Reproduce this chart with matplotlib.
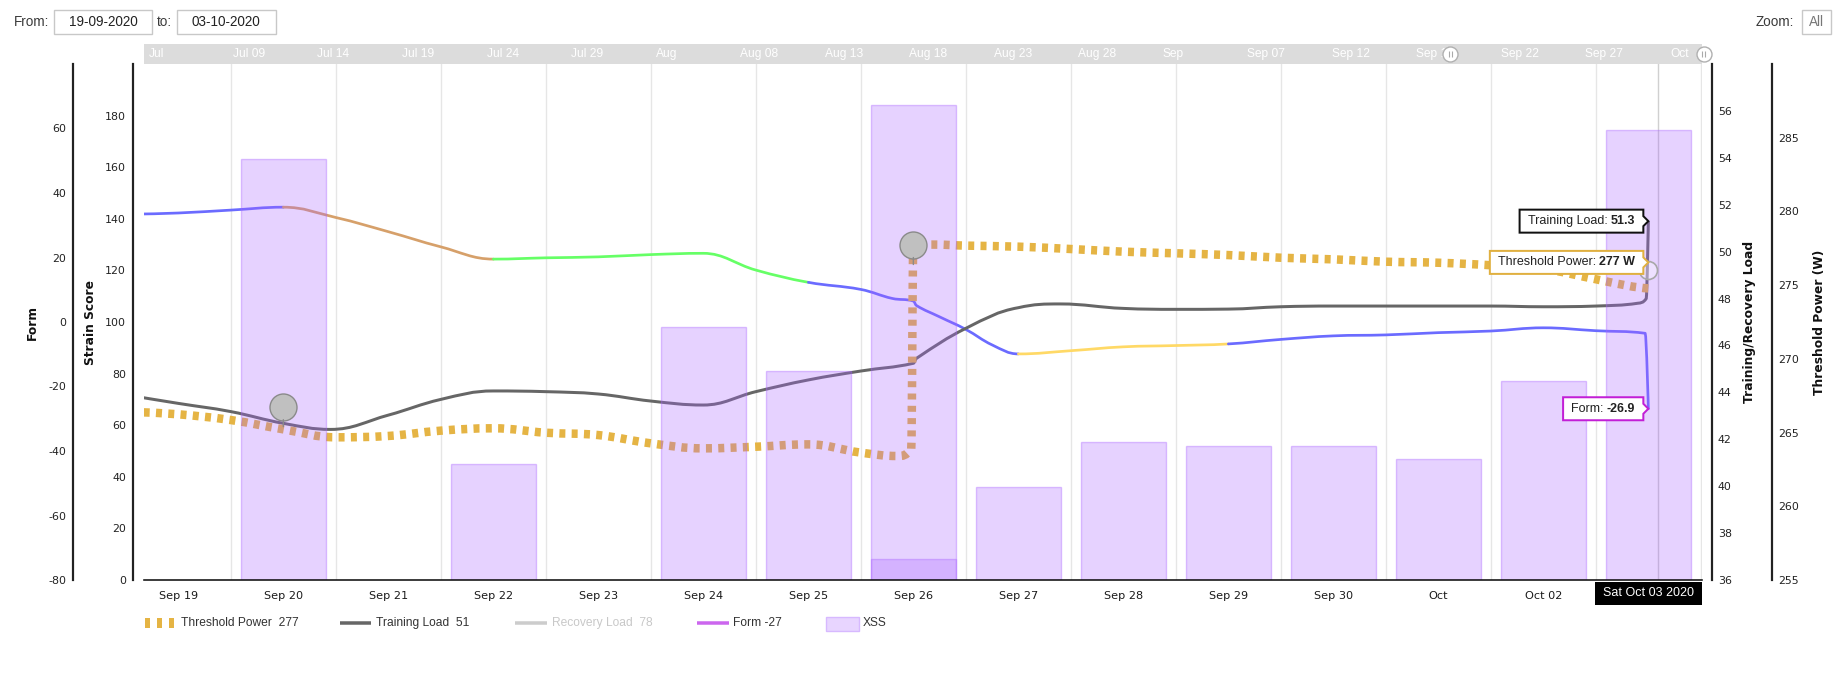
import numpy as np
import pandas as pd
import matplotlib
matplotlib.use("Agg")
import matplotlib.pyplot as plt
from matplotlib.path import Path
from matplotlib.patches import PathPatch, Polygon, Rectangle
from matplotlib.lines import Line2D
from matplotlib.transforms import IdentityTransform, ScaledTranslation

plt.rcParams['lines.scale_dashes'] = False
plt.rcParams['axes.unicode_minus'] = False
plt.rcParams['font.family'] = ['DejaVu Sans']

# ------------------------------------------------------------------ data
START = '2020-09-19'
TICK_LABELS = ['Sep 19', 'Sep 20', 'Sep 21', 'Sep 22', 'Sep 23', 'Sep 24', 'Sep 25',
               'Sep 26', 'Sep 27', 'Sep 28', 'Sep 29', 'Sep 30', 'Oct', 'Oct 02']
HOVER_DATE = '2020-10-03'
HOVER_LABEL = 'Sat Oct 03 2020'

XSS_DATES = ['2020-09-20', '2020-09-22', '2020-09-24', '2020-09-25', '2020-09-26',
             '2020-09-27', '2020-09-28', '2020-09-29', '2020-09-30', '2020-10-01',
             '2020-10-02', '2020-10-03']
XSS_VALUES = [163, 45, 98, 81, 184, 36, 53.5, 52, 52, 47, 77, 174.5]
XSS_EXTRA_DATES = ['2020-09-26']
XSS_EXTRA_VALUES = [8]

# days after Sep 19 00:00
FORM_DAY = [-0.33, 0, 0.5, 1, 1.5, 2, 2.5, 3, 3.5, 4, 4.5, 5, 5.5, 6, 6.5, 6.8, 7, 7.03,
            7.25, 7.5, 7.75, 8, 8.5, 9, 9.5, 10, 10.5, 11, 11.5, 12, 12.5, 13, 13.5, 13.97, 14.0]
FORM_VAL = [33.5, 33.8, 34.7, 35.6, 32.4, 28.0, 23.3, 19.5, 19.9, 20.2, 20.9, 21.3, 16.1,
            12.3, 10.1, 7.3, 6.5, 5.1, 1.6, -2.3, -7.1, -9.9, -8.9, -7.7, -7.3, -6.8, -5.4,
            -4.3, -4.0, -3.3, -2.8, -1.8, -2.7, -3.5, -26.9]
FORM_ZONE_END = [1, 3, 6, 8, 10, 99]
FORM_ZONE_COLORS = ['#6b6bff', '#d6a06a', '#66ff66', '#6b6bff', '#ffd966', '#6b6bff']

TL_DAY = [-0.33, 0, 0.5, 1, 1.45, 2, 2.5, 3, 3.5, 4, 4.5, 5, 5.5, 6, 6.5, 7, 7.03, 7.5,
          8, 8.4, 9, 9.5, 10, 10.5, 11, 12, 12.5, 13, 13.5, 13.9, 13.98, 14.0]
TL_VAL = [43.77, 43.53, 43.18, 42.68, 42.42, 43.03, 43.70, 44.06, 44.03, 43.93, 43.63,
          43.46, 44.03, 44.53, 44.91, 45.24, 45.45, 46.73, 47.61, 47.77, 47.58, 47.54,
          47.55, 47.65, 47.68, 47.68, 47.68, 47.65, 47.68, 47.80, 48.0, 51.3]

TP_DAY = [-0.33, 0, 0.5, 1, 1.5, 2, 2.5, 3, 3.5, 4, 4.5, 5, 5.5, 6, 6.5, 6.85, 6.98, 7.0,
          7.2, 7.5, 8, 8.5, 9, 9.5, 10, 10.5, 11, 11.5, 12, 12.5, 13, 13.5, 13.85, 14]
TP_VAL = [266.37, 266.24, 265.85, 265.22, 264.68, 264.77, 265.13, 265.29, 264.99, 264.83,
          264.27, 263.93, 264.04, 264.2, 263.64, 263.41, 263.9, 277.7, 277.75, 277.68,
          277.61, 277.45, 277.27, 277.16, 277.04, 276.86, 276.75, 276.59, 276.52, 276.35,
          276.1, 275.4, 274.9, 274.78]

FLAG_DAY = [1, 7]
FLAG_VAL = [265.4, 276.4]

TOOLTIP_TL = 51.3
TOOLTIP_TP = 277
TOOLTIP_TP_Y = 276.0
TOOLTIP_FORM = -26.9

LEGEND_ITEMS = ['Threshold Power  277', 'Training Load  51', 'Recovery Load  78', 'Form -27', 'XSS']

NAV_LABELS = ['Jul', 'Jul 09', 'Jul 14', 'Jul 19', 'Jul 24', 'Jul 29', 'Aug', 'Aug 08',
              'Aug 13', 'Aug 18', 'Aug 23', 'Aug 28', 'Sep', 'Sep 07', 'Sep 12', 'Sep 17',
              'Sep 22', 'Sep 27', 'Oct']
NAV_START = '2020-07-04'
NAV_HANDLES = ['2020-09-19', '2020-10-04']

FROM_DATE = '19-09-2020'
TO_DATE = '03-10-2020'

# ------------------------------------------------------------------ layout helpers
W, H, DPI = 1839, 684, 100
fig = plt.figure(figsize=(W / DPI, H / DPI), dpi=DPI)
fig.patch.set_facecolor('white')


def fx(x):
    return x / W


def fy(y):
    return 1 - y / H


def pt(px):
    return px * 72.0 / DPI


t0 = pd.Timestamp(START)


def dayoff(dates):
    return np.array([(pd.Timestamp(d) - t0) / pd.Timedelta(days=1) for d in dates])


PL, PR, PT, PB = 144, 1702, 64, 580
rect = [fx(PL), fy(PB), (PR - PL) / W, (PB - PT) / H]
XLIM = (-0.327, 14.511)

ax_f = fig.add_axes(rect, zorder=1)
ax_t = fig.add_axes(rect, zorder=2)
ax_p = fig.add_axes(rect, zorder=3)
ax_s = fig.add_axes(rect, zorder=4)

for a in (ax_t, ax_p, ax_s):
    a.patch.set_visible(False)
ax_f.set_facecolor('white')

for a in (ax_f, ax_t, ax_p, ax_s):
    for s in a.spines.values():
        s.set_visible(False)
    a.tick_params(axis='x', bottom=False, top=False, labelbottom=False, labeltop=False)


def style_y(a, side, outward_px, lo, hi, ticks):
    sp = a.spines[side]
    sp.set_visible(True)
    sp.set_position(('outward', pt(outward_px)))
    sp.set_linewidth(pt(2.2))
    sp.set_color('#222222')
    a.yaxis.set_ticks_position(side)
    a.set_yticks(ticks)
    a.set_ylim(lo, hi)
    a.tick_params(axis='y', length=0, pad=pt(7.3 if side == 'left' else 6.2),
                  labelsize=pt(11), labelcolor='#222222')


style_y(ax_f, 'left', PL - 73.3, -80, 80, list(range(-80, 61, 20)))
style_y(ax_s, 'left', PL - 133.3, 0, 200, list(range(0, 181, 20)))
style_y(ax_t, 'right', 1711.7 - PR, 36, 58, list(range(36, 57, 2)))
style_y(ax_p, 'right', 1771.7 - PR, 255, 290, list(range(255, 286, 5)))

# x axis on strain axes
days = np.arange(len(TICK_LABELS))
ax_s.spines['bottom'].set_visible(True)
ax_s.spines['bottom'].set_color('#111111')
ax_s.spines['bottom'].set_linewidth(pt(1.6))
ax_s.set_xticks(days)
ax_s.set_xticklabels(TICK_LABELS)
ax_s.tick_params(axis='x', bottom=True, labelbottom=True, length=0, pad=pt(11),
                 labelsize=pt(11.3), labelcolor='#1a1a1a')

# grid lines between days
ax_f.set_xticks([])
ax_f.set_xticks(np.arange(0.5, 14.6, 1), minor=True)
ax_f.grid(True, which='minor', axis='x', color='#e6e6e6', lw=1)
ax_f.tick_params(axis='x', which='minor', bottom=False, length=0)
ax_f.set_axisbelow(True)

for a in (ax_f, ax_t, ax_p, ax_s):
    a.set_xlim(*XLIM)

hover_d = dayoff([HOVER_DATE])[0]
ax_f.axvline(hover_d + 0.09, color='#d0d0d0', lw=1, zorder=0.5)


# ------------------------------------------------------------------ spline (Highcharts style)
def spline_segments(xs, ys):
    n = len(xs)
    right_c = [None] * n
    segs = []
    for i in range(n):
        px_, py_ = xs[i], ys[i]
        lc = None
        if 0 < i < n - 1:
            lx, ly = xs[i - 1], ys[i - 1]
            nx, ny = xs[i + 1], ys[i + 1]
            lcx = (1.5 * px_ + lx) / 2.5
            lcy = (1.5 * py_ + ly) / 2.5
            rcx = (1.5 * px_ + nx) / 2.5
            rcy = (1.5 * py_ + ny) / 2.5
            corr = 0.0
            if rcx != lcx:
                corr = (rcy - lcy) * (rcx - px_) / (rcx - lcx) + py_ - rcy
            lcy += corr
            rcy += corr
            if lcy > ly and lcy > py_:
                lcy = max(ly, py_)
                rcy = 2 * py_ - lcy
            elif lcy < ly and lcy < py_:
                lcy = min(ly, py_)
                rcy = 2 * py_ - lcy
            if rcy > ny and rcy > py_:
                rcy = max(ny, py_)
                lcy = 2 * py_ - rcy
            elif rcy < ny and rcy < py_:
                rcy = min(ny, py_)
                lcy = 2 * py_ - rcy
            right_c[i] = (rcx, rcy)
            lc = (lcx, lcy)
        if i > 0:
            c1 = right_c[i - 1] if right_c[i - 1] is not None else (xs[i - 1], ys[i - 1])
            c2 = lc if lc is not None else (px_, py_)
            segs.append(((xs[i - 1], ys[i - 1]), c1, c2, (px_, py_)))
    return segs


def segs_path(segs):
    verts = [segs[0][0]]
    codes = [Path.MOVETO]
    for p0, c1, c2, p1 in segs:
        verts += [c1, c2, p1]
        codes += [Path.CURVE4] * 3
    return Path(verts, codes)


# form line with zones
fsegs = spline_segments(FORM_DAY, FORM_VAL)


def zone_color(x):
    for end, c in zip(FORM_ZONE_END, FORM_ZONE_COLORS):
        if x <= end:
            return c
    return FORM_ZONE_COLORS[-1]


groups = []
for sg in fsegs:
    c = zone_color(0.5 * (sg[0][0] + sg[3][0]))
    if groups and groups[-1][0] == c:
        groups[-1][1].append(sg)
    else:
        groups.append([c, [sg]])
for c, sgs in groups:
    ax_f.add_patch(PathPatch(segs_path(sgs), fill=False, edgecolor=c, lw=pt(2.7),
                             capstyle='round', joinstyle='round', zorder=3))

# training load
ax_t.add_patch(PathPatch(segs_path(spline_segments(TL_DAY, TL_VAL)), fill=False,
                         edgecolor='#666666', lw=pt(3), joinstyle='round', zorder=3))

# threshold power (thick dotted)
GOLD = '#e5b444'
tp_patch = PathPatch(segs_path(spline_segments(TP_DAY, TP_VAL)), fill=False,
                     edgecolor=GOLD, lw=pt(8.5), zorder=3)
tp_patch.set_linestyle((0, (pt(6.0), pt(6.3))))
tp_patch.set_capstyle('butt')
ax_p.add_patch(tp_patch)

# XSS bars (semi-transparent, on top)
BAR_FC = (170 / 255, 100 / 255, 1.0, 0.29)
BAR_EC = (170 / 255, 100 / 255, 1.0, 0.38)
ax_s.bar(dayoff(XSS_DATES), XSS_VALUES, width=0.807, color=BAR_FC, edgecolor=BAR_EC, lw=1, zorder=2)
ax_s.bar(dayoff(XSS_EXTRA_DATES), XSS_EXTRA_VALUES, width=0.807, color=BAR_FC, edgecolor=BAR_EC,
         lw=1, zorder=2)
ax_s.set_xlim(*XLIM)
ax_s.set_ylim(0, 200)

# flags above threshold series
flag_tr = ax_p.transData + ScaledTranslation(0, 0.20, fig.dpi_scale_trans)
ax_s.plot(FLAG_DAY, FLAG_VAL, transform=flag_tr, ls='none', marker='o', ms=pt(27),
          mfc='#c0c0c0', mec='#8a8a8a', mew=1, zorder=6, clip_on=False)
for d, v in zip(FLAG_DAY, FLAG_VAL):
    ax_s.annotate('', xy=(d, v), xycoords=ax_p.transData, xytext=(0, 7),
                  textcoords='offset pixels',
                  arrowprops=dict(arrowstyle='-', color='#8a8a8a', lw=1, shrinkA=0, shrinkB=0),
                  zorder=6)

# hover marker on threshold
ax_s.plot([hover_d], [TOOLTIP_TP_Y], transform=ax_p.transData, ls='none', marker='o',
          ms=pt(18), mfc=(1, 1, 1, 0.35), mec='#a8a8a8', mew=1.2, zorder=7, clip_on=False)

# ------------------------------------------------------------------ tooltips
renderer = fig.canvas.get_renderer()
TIPFONT = 'Liberation Sans'


def callout(ax, xd, yd, label, value, color, dy=0.0):
    xa, ya = ax.transData.transform((xd, yd))
    ya += dy
    right = xa - 5
    tv = fig.text((right - 8) / W, ya / H, value, ha='right', va='center', family=TIPFONT,
                  fontsize=pt(12.5), fontweight='bold', color='#222222', zorder=31)
    bv = tv.get_window_extent(renderer)
    tl = fig.text(bv.x0 / W, ya / H, label, ha='right', va='center', family=TIPFONT,
                  fontsize=pt(12.5), color='#222222', zorder=31)
    bl = tl.get_window_extent(renderer)
    left = bl.x0 - 8
    h = 23
    poly = Polygon([[left, ya - h / 2], [right, ya - h / 2], [right, ya - 5], [xa, ya],
                    [right, ya + 5], [right, ya + h / 2], [left, ya + h / 2]], closed=True,
                   transform=IdentityTransform(), fc='white', ec=color, lw=pt(2), zorder=30)
    fig.add_artist(poly)


callout(ax_t, hover_d, TOOLTIP_TL, 'Training Load: ', f'{TOOLTIP_TL:.1f}', '#111111')
callout(ax_p, hover_d, TOOLTIP_TP_Y, 'Threshold Power: ', f'{TOOLTIP_TP} W', '#e0b040', dy=8)
callout(ax_f, hover_d, TOOLTIP_FORM, 'Form: ', f'{TOOLTIP_FORM:.1f}', '#c21fd6')

# hover date label under axis
xh, _ = ax_s.transData.transform((hover_d, 0))
th = fig.text(xh / W, fy(593.5), HOVER_LABEL, ha='center', va='center', family=TIPFONT,
              fontsize=pt(12.5), color='white', zorder=31)
bh = th.get_window_extent(renderer)
bw = bh.width + 16
bx1 = min(xh + bw / 2, PR)
bx0 = bx1 - bw
th.set_x((bx0 + bw / 2) / W)
fig.add_artist(Rectangle((bx0, H - 605), bw, 23.5, transform=IdentityTransform(),
                         fc='black', ec='none', zorder=30))

# ------------------------------------------------------------------ axis titles
TFS = pt(12.2)
fig.text(fx(32), fy(322), 'Form', rotation=90, ha='center', va='center', fontsize=TFS,
         fontweight='bold', color='#111111')
fig.text(fx(90), fy(322), 'Strain Score', rotation=90, ha='center', va='center', fontsize=TFS,
         fontweight='bold', color='#111111')
fig.text(fx(1750), fy(322), 'Training/Recovery Load', rotation=90, ha='center', va='center',
         fontsize=TFS, fontweight='bold', color='#111111')
fig.text(fx(1820), fy(322), 'Threshold Power (W)', rotation=90, ha='center', va='center',
         fontsize=TFS, fontweight='bold', color='#111111')

# ------------------------------------------------------------------ legend
LEGY = 622.7
LFS = pt(12)


def fig_line(x0, x1, y, color, lw_px, dashes=None):
    ln = Line2D([fx(x0), fx(x1)], [fy(y), fy(y)], transform=fig.transFigure, color=color,
                lw=pt(lw_px), solid_capstyle='butt', dash_capstyle='butt', zorder=20)
    if dashes is not None:
        ln.set_dashes(dashes)
    fig.add_artist(ln)


fig_line(145, 174, LEGY, GOLD, 10, dashes=(pt(5), pt(7)))
fig_line(340, 371, LEGY, '#666666', 3.5)
fig_line(515, 547, LEGY, '#cccccc', 3.5)
fig_line(697, 729, LEGY, '#cc66ee', 3.5)
fig.add_artist(Rectangle((fx(826), fy(630.7)), 33 / W, 14 / H, transform=fig.transFigure,
                         fc=(232 / 255, 213 / 255, 1.0), ec=(215 / 255, 185 / 255, 1.0), lw=1,
                         zorder=20))
leg_x = [181, 376, 552, 733, 863]
leg_c = ['#333333', '#333333', '#c8c8c8', '#333333', '#333333']
for x, s, c in zip(leg_x, LEGEND_ITEMS, leg_c):
    fig.text(fx(x), fy(LEGY), s, ha='left', va='center', family=TIPFONT, fontsize=LFS, color=c)

# ------------------------------------------------------------------ navigator
NAV_PX_PER_DAY = 16.906
nav_x0 = 148.4
ax_nav = fig.add_axes([fx(PL), fy(63.5), (PR - PL) / W, 19.5 / H], zorder=5)
ax_nav.set_facecolor('#dcdcdc')
for s in ax_nav.spines.values():
    s.set_visible(False)
ax_nav.set_xticks([])
ax_nav.set_yticks([])
ax_nav.set_xlim((PL - nav_x0) / NAV_PX_PER_DAY, (PR - nav_x0) / NAV_PX_PER_DAY)
ax_nav.set_ylim(0, 1)
nav_t0 = pd.Timestamp(NAV_START)
nav_days = [5 * k for k in range(len(NAV_LABELS))]
for d, s in zip(nav_days, NAV_LABELS):
    ax_nav.text(d, 0.47, s, ha='left', va='center', family=TIPFONT, fontsize=pt(12),
                color='white', clip_on=True)
hd = [(pd.Timestamp(h) - nav_t0) / pd.Timedelta(days=1) for h in NAV_HANDLES]
ax_nav.plot(hd, [0.47, 0.47], ls='none', marker='o', ms=pt(15), mfc='white', mec='#b0b0b0',
            mew=1, clip_on=False, zorder=5)
for off in (-1.6, 1.6):
    ax_nav.plot(hd, [0.47, 0.47], ls='none', marker='|', ms=pt(6), mec='#aaaaaa', mew=0.8,
                clip_on=False, zorder=6,
                transform=ax_nav.transData + ScaledTranslation(off / DPI, 0, fig.dpi_scale_trans))

# ------------------------------------------------------------------ header controls
HFS = pt(13.5)


def box(x0, x1, y0, y1):
    fig.add_artist(Rectangle((fx(x0), fy(y1)), (x1 - x0) / W, (y1 - y0) / H,
                             transform=fig.transFigure, fc='white', ec='#c8c8c8', lw=1))


fig.text(fx(13.4), fy(22), 'From:', ha='left', va='center', family=TIPFONT, fontsize=HFS,
         color='#3a3a3a')
box(53.6, 152.3, 10, 33.5)
fig.text(fx(103), fy(22), FROM_DATE, ha='center', va='center', family=TIPFONT, fontsize=HFS,
         color='#222222')
fig.text(fx(157), fy(22), 'to:', ha='left', va='center', family=TIPFONT, fontsize=HFS,
         color='#3a3a3a')
box(176.8, 275.5, 10, 33.5)
fig.text(fx(226.2), fy(22), TO_DATE, ha='center', va='center', family=TIPFONT, fontsize=HFS,
         color='#222222')
fig.text(fx(1756), fy(22), 'Zoom:', ha='left', va='center', family=TIPFONT, fontsize=HFS,
         color='#3a3a3a')
box(1802, 1830.5, 10, 34.3)
fig.text(fx(1816.2), fy(22), 'All', ha='center', va='center', family=TIPFONT, fontsize=HFS,
         color='#777777')

fig.savefig('out.png', dpi=DPI, facecolor='white')
